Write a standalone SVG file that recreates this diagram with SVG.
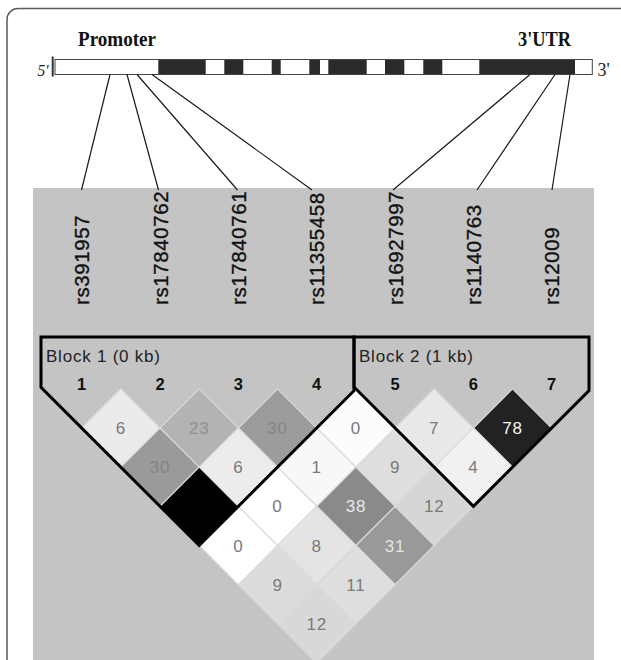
<svg xmlns="http://www.w3.org/2000/svg" xmlns:xlink="http://www.w3.org/1999/xlink" width="621" height="660" viewBox="0 0 621 660">
<style>
.serifb{font-family:"Liberation Serif","Times New Roman",serif;font-weight:bold;fill:#111}
.serif{font-family:"Liberation Serif","Times New Roman",serif;fill:#222}
.rs{font-family:"Liberation Sans",Arial,sans-serif;font-size:20.5px;fill:#111;stroke:#111;stroke-width:0.35;letter-spacing:0.6px}
.blk{font-family:"Liberation Sans",Arial,sans-serif;font-size:17px;fill:#222}
.mk{font-family:"Liberation Sans",Arial,sans-serif;font-size:16.5px;font-weight:bold;fill:#111;text-anchor:middle}
.val{font-family:"Liberation Sans",Arial,sans-serif;font-size:17px;text-anchor:middle;letter-spacing:0.8px}
.cell{stroke:#dadada;stroke-width:1.2}
.ex{fill:#2a2a2a}
.conn line{stroke:#1a1a1a;stroke-width:1.2}
.outline{fill:none;stroke:#000;stroke-width:3;stroke-linejoin:miter}
</style>
<defs>
<path id="d" d="M0,-39.17 L39.17,0 L0,39.17 L-39.17,0 Z"/>
</defs>
<rect x="0" y="0" width="621" height="660" fill="#fff"/>
<rect x="7" y="8.5" width="700" height="700" rx="11" fill="none" stroke="#5a5a5a" stroke-width="1.5"/>

<g id="gene">
<text class="serifb" x="78" y="45.5" font-size="20" textLength="78" lengthAdjust="spacingAndGlyphs">Promoter</text>
<text class="serifb" x="518" y="45.5" font-size="20" textLength="53" lengthAdjust="spacingAndGlyphs">3'UTR</text>
<text class="serif" x="37.5" y="75.5" font-size="17" font-style="italic" textLength="11" lengthAdjust="spacingAndGlyphs">5'</text>
<text class="serif" x="597.5" y="75.5" font-size="18">3'</text>
<line x1="52.7" y1="56.5" x2="52.7" y2="76.5" stroke="#333" stroke-width="2"/>
<rect x="55" y="59.5" width="537.3" height="15" fill="#fff" stroke="#444" stroke-width="1"/>
<rect class="ex" x="158.3" y="60" width="47.4" height="14"/>
<rect class="ex" x="224.3" y="60" width="19" height="14"/>
<rect class="ex" x="271.7" y="60" width="9" height="14"/>
<rect class="ex" x="309.3" y="60" width="10.7" height="14"/>
<rect class="ex" x="328.3" y="60" width="38.4" height="14"/>
<rect class="ex" x="385" y="60" width="19.3" height="14"/>
<rect class="ex" x="423.3" y="60" width="19" height="14"/>
<rect class="ex" x="479.3" y="60" width="95.7" height="14"/>
</g>

<rect x="33" y="188" width="561" height="472" fill="#c4c4c4"/>

<g id="connectors" class="conn">
<line x1="110" y1="74.5" x2="81.5" y2="190"/>
<line x1="127" y1="74.5" x2="158.5" y2="190"/>
<line x1="137" y1="74.5" x2="237.5" y2="190"/>
<line x1="152" y1="74.5" x2="312" y2="190"/>
<line x1="530" y1="74.5" x2="393" y2="190"/>
<line x1="555" y1="74.5" x2="477" y2="190"/>
<line x1="570" y1="74.5" x2="552" y2="190"/>
</g>

<g id="snp1"><text class="rs" transform="translate(89.2,305) rotate(-90)">rs391957</text></g>
<g id="snp2"><text class="rs" transform="translate(167.5,305) rotate(-90)">rs17840762</text></g>
<g id="snp3"><text class="rs" transform="translate(245.9,305) rotate(-90)">rs17840761</text></g>
<g id="snp4"><text class="rs" transform="translate(324.2,305) rotate(-90)">rs11355458</text></g>
<g id="snp5"><text class="rs" transform="translate(402.5,305) rotate(-90)">rs16927997</text></g>
<g id="snp6"><text class="rs" transform="translate(480.9,305) rotate(-90)">rs1140763</text></g>
<g id="snp7"><text class="rs" transform="translate(559.2,305) rotate(-90)">rs12009</text></g>

<g id="cells">
<g id="c12"><use xlink:href="#d" class="cell" x="120.85" y="428" fill="#ebebeb"/><text class="val" x="120.85" y="434" fill="#7a7a7a">6</text></g>
<g id="c23"><use xlink:href="#d" class="cell" x="199.2" y="428" fill="#b3b3b3"/><text class="val" x="199.2" y="434" fill="#909090">23</text></g>
<g id="c34"><use xlink:href="#d" class="cell" x="277.55" y="428" fill="#9c9c9c"/><text class="val" x="277.55" y="434" fill="#858585">30</text></g>
<g id="c45"><use xlink:href="#d" class="cell" x="355.85" y="428" fill="#fcfcfc"/><text class="val" x="355.85" y="434" fill="#7a7a7a">0</text></g>
<g id="c56"><use xlink:href="#d" class="cell" x="434.2" y="428" fill="#e8e8e8"/><text class="val" x="434.2" y="434" fill="#7a7a7a">7</text></g>
<g id="c67"><use xlink:href="#d" class="cell" x="512.55" y="428" fill="#222"/><text class="val" x="512.55" y="434" fill="#f4f4f4">78</text></g>

<g id="c13"><use xlink:href="#d" class="cell" x="160" y="467.17" fill="#9a9a9a"/><text class="val" x="160" y="473.2" fill="#858585">30</text></g>
<g id="c24"><use xlink:href="#d" class="cell" x="238.35" y="467.17" fill="#ececec"/><text class="val" x="238.35" y="473.2" fill="#7a7a7a">6</text></g>
<g id="c35"><use xlink:href="#d" class="cell" x="316.7" y="467.17" fill="#f8f8f8"/><text class="val" x="316.7" y="473.2" fill="#7a7a7a">1</text></g>
<g id="c46"><use xlink:href="#d" class="cell" x="395.05" y="467.17" fill="#dedede"/><text class="val" x="395.05" y="473.2" fill="#7a7a7a">9</text></g>
<g id="c57"><use xlink:href="#d" class="cell" x="473.4" y="467.17" fill="#f1f1f1"/><text class="val" x="473.4" y="473.2" fill="#7a7a7a">4</text></g>

<g id="c14"><use xlink:href="#d" class="cell" x="199.2" y="506.34" fill="#000"/></g>
<g id="c25"><use xlink:href="#d" class="cell" x="277.5" y="506.34" fill="#fff"/><text class="val" x="277.5" y="512.3" fill="#7a7a7a">0</text></g>
<g id="c36"><use xlink:href="#d" class="cell" x="355.9" y="506.34" fill="#8a8a8a"/><text class="val" x="355.9" y="512.3" fill="#e8e8e8">38</text></g>
<g id="c47"><use xlink:href="#d" class="cell" x="434.2" y="506.34" fill="#d6d6d6"/><text class="val" x="434.2" y="512.3" fill="#7a7a7a">12</text></g>

<g id="c15"><use xlink:href="#d" class="cell" x="238.35" y="545.5" fill="#fff"/><text class="val" x="238.35" y="551.5" fill="#7a7a7a">0</text></g>
<g id="c26"><use xlink:href="#d" class="cell" x="316.7" y="545.5" fill="#e4e4e4"/><text class="val" x="316.7" y="551.5" fill="#7a7a7a">8</text></g>
<g id="c37"><use xlink:href="#d" class="cell" x="395.05" y="545.5" fill="#999"/><text class="val" x="395.05" y="551.5" fill="#e4e4e4">31</text></g>

<g id="c16"><use xlink:href="#d" class="cell" x="277.55" y="584.7" fill="#dcdcdc"/><text class="val" x="277.55" y="590.7" fill="#7a7a7a">9</text></g>
<g id="c27"><use xlink:href="#d" class="cell" x="355.9" y="584.7" fill="#dedede"/><text class="val" x="355.9" y="590.7" fill="#7a7a7a">11</text></g>

<g id="c17"><use xlink:href="#d" class="cell" x="316.7" y="623.85" fill="#d8d8d8"/><text class="val" x="316.7" y="629.9" fill="#7a7a7a">12</text></g>
</g>

<g id="block1">
<path class="outline" d="M41,337 H354 V390.7 L199.2,545.5 L41,387.3 Z"/>
<text class="blk" x="46" y="362" textLength="114" lengthAdjust="spacing">Block 1 (0 kb)</text>
<text class="mk" x="81.7" y="389.5">1</text>
<text class="mk" x="160" y="389.5">2</text>
<text class="mk" x="238.4" y="389.5">3</text>
<text class="mk" x="316.7" y="389.5">4</text>
</g>
<g id="block2">
<path class="outline" d="M354,337 H589 V390.6 L473.4,506.3 L354,387 Z"/>
<text class="blk" x="359" y="362" textLength="114" lengthAdjust="spacing">Block 2 (1 kb)</text>
<text class="mk" x="395" y="389.5">5</text>
<text class="mk" x="473.4" y="389.5">6</text>
<text class="mk" x="551.7" y="389.5">7</text>
</g>
</svg>
